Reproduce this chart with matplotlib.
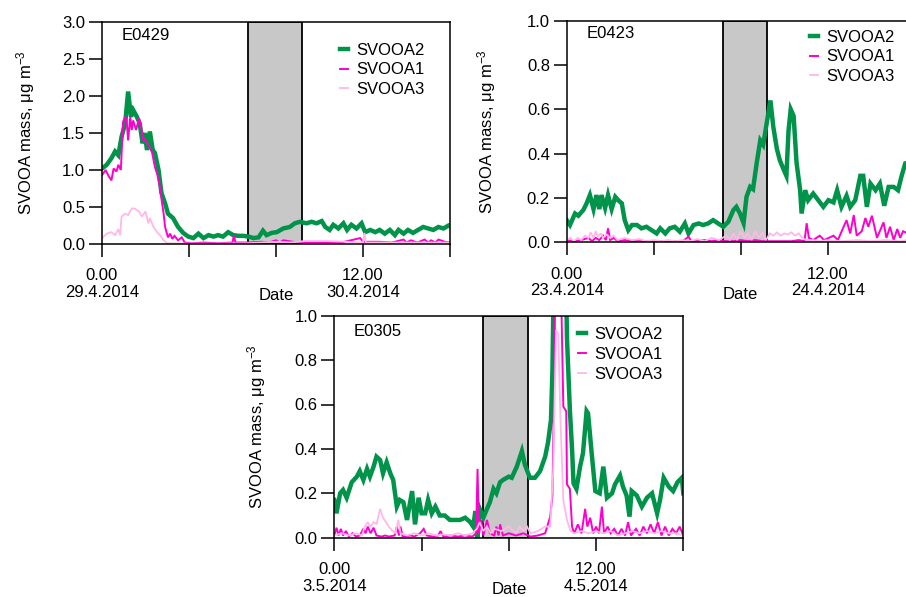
import matplotlib
matplotlib.use("Agg")
import matplotlib.pyplot as plt

plt.rcParams['font.family'] = ['Liberation Sans', 'DejaVu Sans']
plt.rcParams['mathtext.fontset'] = 'custom'
plt.rcParams['mathtext.rm'] = 'Liberation Sans'
plt.rcParams['mathtext.it'] = 'Liberation Sans:italic'
plt.rcParams['mathtext.bf'] = 'Liberation Sans:bold'

# ---------------- data (hours since 0.00 of first day) ----------------
series_names = ['SVOOA2', 'SVOOA1', 'SVOOA3']
series_colors = ['#00934A', '#FF00CC', '#FFB8E8']

# Panel E0429
e0429_t_a2 = [0, 0.65, 1.3, 1.8, 2.25, 2.7, 3.2, 3.6, 4.0, 4.3, 4.8, 5.2, 5.6, 5.9, 6.2,
              6.6, 7.0, 7.3, 7.8, 8.2, 8.7, 9.1, 9.8, 10.5, 11.2, 11.9, 12.6, 13.3, 14.0, 14.7,
              15.4, 16.0, 16.7, 17.4, 18.1, 18.8, 19.5, 20.2, 20.9, 21.6, 22.2, 22.7, 23.4, 24.1, 25.0,
              25.9, 26.6, 27.3, 28.2, 28.9, 29.6, 30.3, 30.8, 31.4, 31.9, 32.6, 33.3, 33.8, 34.4, 35.1,
              35.8, 36.3, 37.0, 37.7, 38.3, 39.0, 39.7, 40.4, 40.9, 41.6, 42.2, 42.9, 43.6, 44.3, 45.0,
              45.7, 46.4, 47.1, 47.8, 48.0]
e0429_a2 = [1.02, 1.07, 1.16, 1.25, 1.20, 1.45, 1.63, 2.06, 1.72, 1.81, 1.72, 1.63, 1.36, 1.50, 1.27,
            1.52, 1.27, 1.23, 1.00, 0.69, 0.55, 0.41, 0.35, 0.23, 0.15, 0.10, 0.08, 0.14, 0.08, 0.12,
            0.10, 0.12, 0.10, 0.16, 0.12, 0.11, 0.11, 0.10, 0.08, 0.09, 0.18, 0.12, 0.15, 0.16, 0.21,
            0.23, 0.28, 0.30, 0.28, 0.30, 0.28, 0.31, 0.23, 0.19, 0.26, 0.21, 0.28, 0.19, 0.26, 0.21,
            0.28, 0.16, 0.19, 0.16, 0.19, 0.14, 0.19, 0.12, 0.19, 0.14, 0.19, 0.15, 0.19, 0.23, 0.21,
            0.19, 0.23, 0.21, 0.25, 0.24]
e0429_t_a1 = [0, 0.5, 0.96, 1.3, 1.6, 2.0, 2.25, 2.6, 2.9, 3.2, 3.4, 3.6, 3.9, 4.1, 4.3, 4.7, 5.1,
              5.3, 5.7, 5.9, 6.4, 6.9, 7.3, 7.6, 8.0, 8.2, 8.5, 8.7, 8.9, 9.1, 9.4, 9.7, 10.0, 10.5,
              11.0, 11.4, 12.4, 14.0, 16.0, 18.0, 18.2, 18.4, 20.0, 22.0, 23.0, 24.0, 24.5, 25.0, 27.0,
              30.0, 33.0, 35.2, 35.6, 36.0, 38.2, 40.0, 41.6, 42.0, 42.6, 43.5, 44.5, 45.0, 45.4, 46.0,
              46.4, 47.3, 48.0]
e0429_a1 = [0.93, 1.00, 0.91, 0.86, 1.02, 0.98, 1.07, 1.00, 1.65, 1.72, 1.67, 1.40, 1.72, 1.54, 1.67,
            1.54, 1.70, 1.63, 1.40, 1.42, 1.33, 1.24, 1.04, 0.95, 0.77, 0.61, 0.41, 0.23, 0.16, 0.09,
            0.14, 0.07, 0.11, 0.05, 0.09, 0.02, 0.01, 0.02, 0.01, 0.02, 0.12, 0.02, 0.02, 0.03, 0.02,
            0.05, 0.02, 0.05, 0.02, 0.02, 0.02, 0.07, 0.08, 0.03, 0.03, 0.02, 0.06, 0.02, 0.05, 0.02,
            0.06, 0.02, 0.05, 0.02, 0.06, 0.03, 0.02]
e0429_t_a3 = [0, 0.65, 1.3, 1.8, 2.25, 2.5, 2.7, 3.2, 3.6, 4.1, 4.5, 5.1, 5.5, 6.0, 6.4, 6.6, 7.1,
              7.6, 8.0, 8.5, 9.0, 12.0, 16.0, 20.0, 24.0, 26.0, 28.0, 31.0, 34.0, 36.0, 36.2, 36.4,
              40.0, 44.0, 48.0]
e0429_a3 = [0.08, 0.14, 0.16, 0.12, 0.20, 0.12, 0.37, 0.41, 0.39, 0.48, 0.48, 0.44, 0.37, 0.44, 0.28,
            0.35, 0.23, 0.16, 0.12, 0.05, 0.01, 0.005, 0.005, 0.01, 0.03, 0.02, 0.04, 0.04, 0.03, 0.02,
            0.15, 0.02, 0.02, 0.02, 0.02]

# Panel E0423
e0423_t_a2 = [0, 0.45, 1.15, 1.6, 2.3, 2.75, 3.2, 3.7, 4.1, 4.5, 4.8, 5.3, 5.7, 6.2, 6.7, 7.1, 7.6,
              8.0, 8.5, 9.0, 9.7, 10.3, 11.0, 11.7, 12.4, 12.9, 13.6, 14.2, 14.9, 15.6, 16.3, 16.8,
              17.5, 18.2, 18.8, 19.5, 20.2, 20.9, 21.6, 22.3, 23.0, 23.4, 23.9, 24.4, 24.8, 25.3,
              25.7, 26.2, 26.7, 27.1, 27.6, 28.1, 28.5, 29.0, 29.4, 29.9, 30.3, 30.6, 30.9, 31.3,
              31.7, 32.2, 32.4, 32.9, 33.3, 34.0, 34.7, 35.4, 36.1, 36.8, 37.3, 37.9, 38.6, 39.1,
              39.8, 40.5, 40.9, 41.4, 41.9, 42.6, 43.2, 43.8, 44.4, 45.1, 45.7, 46.2, 46.7, 47.0]
e0423_a2 = [0.10, 0.078, 0.13, 0.12, 0.146, 0.176, 0.213, 0.15, 0.213, 0.15, 0.213, 0.155, 0.213,
            0.15, 0.205, 0.19, 0.176, 0.10, 0.055, 0.078, 0.078, 0.063, 0.07, 0.055, 0.04, 0.063,
            0.04, 0.063, 0.07, 0.048, 0.085, 0.04, 0.078, 0.085, 0.078, 0.085, 0.10, 0.085, 0.07,
            0.093, 0.146, 0.16, 0.13, 0.087, 0.205, 0.25, 0.24, 0.356, 0.46, 0.44, 0.54, 0.64, 0.52,
            0.42, 0.37, 0.33, 0.30, 0.505, 0.60, 0.57, 0.36, 0.235, 0.13, 0.235, 0.19, 0.22, 0.19,
            0.16, 0.19, 0.18, 0.235, 0.16, 0.21, 0.16, 0.19, 0.30, 0.30, 0.16, 0.265, 0.235, 0.265,
            0.165, 0.25, 0.25, 0.235, 0.30, 0.356, 0.36]
e0423_t_a1 = [0, 1, 2, 3, 3.5, 4, 4.5, 5, 5.4, 5.7, 6.0, 6.5, 7, 8, 9, 10, 12, 14, 16, 16.8, 17.2,
              18, 19, 20, 21, 22, 23, 24, 25, 26, 27, 28, 29, 30, 31, 32, 32.8, 33.1, 33.4, 34, 34.9,
              35.5, 36.8, 37.4, 38.2, 38.6, 39.1, 39.6, 40.0, 40.7, 41.2, 41.6, 42.1, 42.8, 43.7,
              44.1, 44.6, 45.1, 45.6, 46.0, 46.4, 47.0]
e0423_a1 = [0.01, 0.005, 0.01, 0.02, 0.005, 0.02, 0.01, 0.03, 0.01, 0.063, 0.01, 0.02, 0.005, 0.01,
            0.005, 0.005, 0.005, 0.005, 0.005, 0.025, 0.005, 0.005, 0.01, 0.005, 0.01, 0.005, 0.005,
            0.01, 0.005, 0.01, 0.005, 0.005, 0.005, 0.005, 0.005, 0.01, 0.005, 0.086, 0.02, 0.01,
            0.03, 0.01, 0.03, 0.01, 0.07, 0.10, 0.04, 0.123, 0.03, 0.05, 0.11, 0.07, 0.12, 0.02,
            0.09, 0.02, 0.07, 0.01, 0.06, 0.02, 0.05, 0.04]
e0423_t_a3 = [0, 0.5, 1, 1.5, 2, 2.5, 3, 3.3, 3.7, 4, 4.3, 4.7, 5, 5.5, 6, 6.5, 7, 8, 9, 10, 11, 12,
              13, 14, 15, 16, 17, 18, 19, 20, 21, 22, 22.5, 23, 23.5, 24, 24.5, 25, 25.5, 26, 26.5,
              27, 27.5, 28, 28.5, 29, 29.5, 30, 30.5, 31, 31.5, 32, 32.5, 33, 34, 35, 36, 38, 40,
              42, 44, 46, 47]
e0423_a3 = [0.01, 0.02, 0.005, 0.02, 0.01, 0.03, 0.02, 0.045, 0.02, 0.05, 0.025, 0.04, 0.02, 0.035,
            0.02, 0.03, 0.01, 0.02, 0.01, 0.015, 0.005, 0.01, 0.005, 0.01, 0.005, 0.01, 0.005, 0.015,
            0.005, 0.02, 0.01, 0.03, 0.01, 0.04, 0.01, 0.05, 0.02, 0.04, 0.01, 0.05, 0.02, 0.045,
            0.01, 0.04, 0.03, 0.045, 0.03, 0.04, 0.035, 0.045, 0.03, 0.04, 0.02, 0.01, 0.01, 0.005,
            0.01, 0.005, 0.01, 0.005, 0.01, 0.005, 0.01]

# Panel E0305
e0305_t_a2 = [0, 0.3, 0.8, 1.2, 1.7, 2.4, 3.1, 3.5, 4.0, 4.5, 4.9, 5.4, 5.8, 6.3, 6.7, 7.2, 7.7,
              8.1, 8.6, 9.0, 9.5, 10.0, 10.7, 11.1, 11.6, 12.0, 12.5, 12.9, 13.4, 13.9, 14.5, 15.2,
              15.9, 16.6, 17.3, 18.0, 18.7, 19.1, 19.4, 19.7, 20.0, 20.5, 21.0, 21.4, 21.9, 22.3,
              22.8, 23.2, 24.0, 24.4, 25.1, 25.8, 26.2, 26.9, 27.6, 28.3, 29.0, 29.4, 29.8, 30.0,
              30.2, 30.8, 31.5, 31.9, 32.0, 32.4, 32.7, 32.9, 33.3, 33.8, 34.2, 34.7, 34.9, 35.4,
              35.9, 36.5, 37.0, 37.5, 38.2, 38.6, 39.3, 39.7, 40.2, 40.6, 40.9, 41.6, 42.3, 43.0,
              43.7, 44.4, 44.8, 45.3, 46.0, 46.6, 47.2, 47.8, 48.0]
e0305_a2 = [0.17, 0.11, 0.20, 0.215, 0.18, 0.25, 0.275, 0.30, 0.26, 0.31, 0.275, 0.32, 0.365, 0.35,
            0.29, 0.34, 0.29, 0.26, 0.14, 0.17, 0.16, 0.08, 0.21, 0.06, 0.18, 0.11, 0.11, 0.17, 0.11,
            0.14, 0.10, 0.10, 0.08, 0.08, 0.08, 0.09, 0.07, 0.05, 0.12, 0.0, 0.13, 0.09, 0.13, 0.16,
            0.22, 0.20, 0.25, 0.26, 0.275, 0.27, 0.32, 0.39, 0.33, 0.27, 0.27, 0.30, 0.365, 0.43,
            0.53, 0.75, 1.2, 1.6, 1.4, 1.1, 0.9, 0.575, 0.40, 0.245, 0.22, 0.32, 0.38, 0.57, 0.56,
            0.38, 0.21, 0.20, 0.32, 0.18, 0.20, 0.24, 0.28, 0.23, 0.19, 0.095, 0.21, 0.19, 0.14,
            0.18, 0.20, 0.11, 0.17, 0.27, 0.23, 0.21, 0.25, 0.27, 0.20]
e0305_t_a1 = [0, 0.3, 0.6, 0.9, 1.2, 1.6, 2.0, 2.5, 3.0, 3.5, 4.0, 4.3, 4.6, 5.0, 5.4, 5.8, 6.5,
              7.0, 7.5, 8.3, 8.6, 8.9, 9.1, 9.4, 10.5, 11.0, 11.8, 12.3, 12.7, 13.5, 14.3, 14.6,
              15.0, 16.0, 17.0, 18.0, 19.0, 19.5, 19.7, 19.9, 20.2, 20.5, 21.0, 21.4, 22.0, 22.3,
              22.6, 22.8, 23.2, 24.0, 25.0, 26.0, 27.0, 28.0, 29.0, 29.7, 30.0, 30.2, 30.4, 30.8,
              31.2, 31.5, 31.9, 32.0, 32.4, 32.7, 33.0, 33.5, 34.0, 34.5, 34.8, 35.2, 35.6, 36.0,
              36.4, 36.8, 37.1, 37.6, 38.0, 38.5, 39.0, 39.5, 40.0, 40.4, 40.8, 41.5, 42.0, 42.5,
              43.0, 43.5, 44.0, 44.5, 45.0, 45.5, 46.0, 46.5, 47.0, 47.5, 48.0]
e0305_a1 = [0.01, 0.045, 0.01, 0.04, 0.01, 0.03, 0.005, 0.02, 0.005, 0.01, 0.04, 0.02, 0.05, 0.02,
            0.045, 0.01, 0.005, 0.01, 0.005, 0.01, 0.05, 0.01, 0.05, 0.005, 0.01, 0.005, 0.02, 0.04,
            0.01, 0.005, 0.01, 0.03, 0.005, 0.01, 0.005, 0.01, 0.005, 0.02, 0.31, 0.02, 0.08, 0.01,
            0.08, 0.02, 0.01, 0.05, 0.01, 0.06, 0.01, 0.02, 0.01, 0.02, 0.005, 0.01, 0.02, 0.095,
            0.19, 0.6, 1.2, 1.3, 1.1, 0.59, 0.57, 0.24, 0.22, 0.05, 0.02, 0.06, 0.02, 0.13, 0.05,
            0.09, 0.02, 0.05, 0.02, 0.14, 0.02, 0.05, 0.02, 0.04, 0.01, 0.04, 0.01, 0.07, 0.01,
            0.04, 0.01, 0.05, 0.02, 0.06, 0.02, 0.07, 0.01, 0.05, 0.01, 0.04, 0.02, 0.05, 0.01]
e0305_t_a3 = [0, 1, 2, 3, 3.8, 4.2, 4.6, 5.0, 5.4, 5.8, 6.3, 6.7, 7.1, 7.5, 8.0, 8.4, 8.8, 9.1,
              10, 11, 12, 13, 14, 15, 16, 17, 18, 19, 19.6, 20, 20.5, 21, 21.5, 22, 23, 24, 25,
              25.5, 26, 26.5, 27, 28, 29, 29.7, 30.1, 30.5, 30.8, 31.1, 31.5, 32.0, 32.5, 33, 34,
              35, 36, 37, 38, 39, 40, 41, 42, 43, 44, 45, 46, 47, 48]
e0305_a3 = [0.01, 0.02, 0.01, 0.02, 0.01, 0.05, 0.07, 0.05, 0.07, 0.06, 0.13, 0.09, 0.07, 0.05,
            0.03, 0.02, 0.08, 0.02, 0.01, 0.02, 0.01, 0.02, 0.01, 0.015, 0.01, 0.02, 0.01, 0.02,
            0.04, 0.07, 0.03, 0.05, 0.02, 0.04, 0.03, 0.05, 0.02, 0.05, 0.03, 0.05, 0.02, 0.03,
            0.05, 0.05, 0.3, 0.935, 0.92, 0.54, 0.17, 0.08, 0.03, 0.02, 0.03, 0.02, 0.03, 0.02,
            0.03, 0.01, 0.02, 0.03, 0.02, 0.03, 0.02, 0.03, 0.02, 0.02, 0.01]

panels = [
    dict(name='E0429', t=[e0429_t_a2, e0429_t_a1, e0429_t_a3], v=[e0429_a2, e0429_a1, e0429_a3],
         ymax=3.0, yticks=[0.0, 0.5, 1.0, 1.5, 2.0, 2.5, 3.0], shade=(20.1, 27.65),
         xlabels=['0.00\n29.4.2014', '', '', '12.00\n30.4.2014', '']),
    dict(name='E0423', t=[e0423_t_a2, e0423_t_a1, e0423_t_a3], v=[e0423_a2, e0423_a1, e0423_a3],
         ymax=1.0, yticks=[0.0, 0.2, 0.4, 0.6, 0.8, 1.0], shade=(21.6, 27.67),
         xlabels=['0.00\n23.4.2014', '', '', '12.00\n24.4.2014', '']),
    dict(name='E0305', t=[e0305_t_a2, e0305_t_a1, e0305_t_a3], v=[e0305_a2, e0305_a1, e0305_a3],
         ymax=1.0, yticks=[0.0, 0.2, 0.4, 0.6, 0.8, 1.0], shade=(20.4, 26.7),
         xlabels=['0.00\n3.5.2014', '', '', '12.00\n4.5.2014', '']),
]
xticks = [0, 12, 24, 36, 48]

# ---------------- layout (pixel measurements of the reference) ----------------
W, H = 906, 597
boxes = [(102, 22, 348, 222), (566.7, 20.7, 348, 221.6), (334.3, 315.7, 349, 222)]
legend_pos = [(0.684, 0.907), (0.699, 0.960), (0.698, 0.949)]
name_pos = [(0.126, 0.937), (0.126, 0.94), (0.125, 0.931)]
ylabel_x = [-0.186, -0.198, -0.189]
lws = [3.2, 1.4, 1.3]
zs = [2, 3, 4]

fig = plt.figure(figsize=(W / 100, H / 100), dpi=100)
for p, (x0, y0, w, h), lp, npos, ylx in zip(panels, boxes, legend_pos, name_pos, ylabel_x):
    ax = fig.add_axes([x0 / W, (H - y0 - h) / H, w / W, h / H])
    ax.axvspan(p['shade'][0], p['shade'][1], facecolor='#C8C8C8', edgecolor='black',
               linewidth=1.3, zorder=1)
    for t, v, nm, c, lw, z in zip(p['t'], p['v'], series_names, series_colors, lws, zs):
        n = min(len(t), len(v))
        ax.plot(t[:n], v[:n], color=c, lw=lw, label=nm, zorder=z, solid_joinstyle='miter')
    ax.set_xlim(0, 48)
    ax.set_ylim(0, p['ymax'])
    ax.set_yticks(p['yticks'])
    ax.set_yticklabels(['%.1f' % y for y in p['yticks']])
    ax.set_xticks(xticks)
    ax.set_xticklabels(p['xlabels'])
    for lbl in ax.get_xticklabels():
        lbl.set_linespacing(1.12)
    ax.tick_params(direction='out', length=9.1, width=1.1, labelsize=12, colors='black')
    ax.tick_params(axis='y', pad=3)
    ax.tick_params(axis='x', pad=8.5)
    for s in ax.spines.values():
        s.set_linewidth(1.1)
        s.set_zorder(5)
    ax.set_ylabel('SVOOA mass, μg m$^{-3}$', fontsize=12)
    ax.yaxis.set_label_coords(ylx, 0.5)
    ax.set_xlabel('Date', fontsize=12)
    ax.xaxis.set_label_coords(0.5, -0.2)
    ax.text(npos[0], npos[1], p['name'], transform=ax.transAxes, ha='center', va='center',
            fontsize=12)
    ax.legend(loc='upper left', bbox_to_anchor=lp, frameon=False, fontsize=12,
              handlelength=0.5, handletextpad=0.5, labelspacing=0.29, borderpad=0,
              borderaxespad=0)

fig.savefig('out.png', dpi=100)
